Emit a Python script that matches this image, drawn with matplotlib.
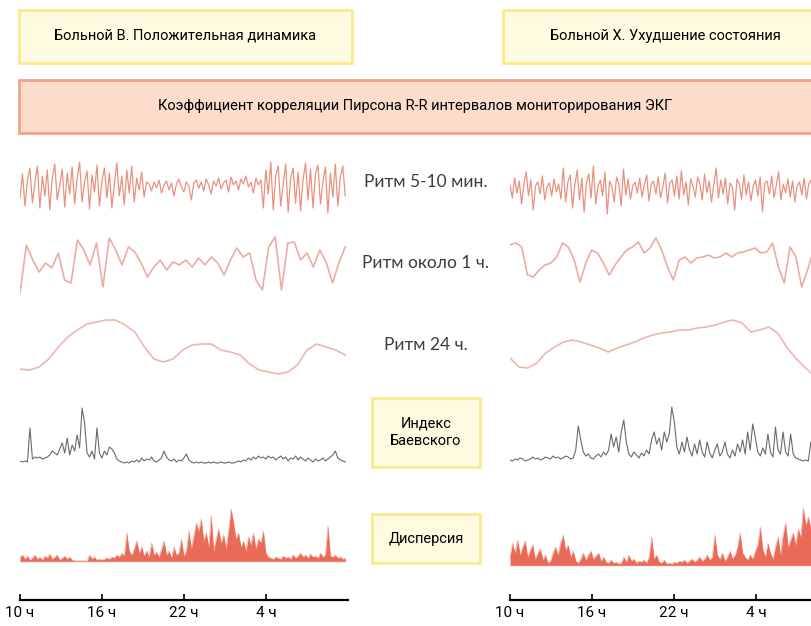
import numpy as np
import matplotlib
matplotlib.use('Agg')
import matplotlib.pyplot as plt
from matplotlib.patches import Rectangle

# --- texts ---
title_left = 'Больной В. Положительная динамика'
title_right = 'Больной Х. Ухудшение состояния'
title_main = 'Коэффициент корреляции Пирсона R-R интервалов мониторирования ЭКГ'
rhythm_labels = ['Ритм 5-10 мин.', 'Ритм около 1 ч.', 'Ритм 24 ч.']
box_labels = ['Индекс\nБаевского', 'Дисперсия']
hour_ticks = [0, 6, 12, 18]
hour_labels = ['10 ч', '16 ч', '22 ч', '4 ч']

# hours covered by the recorded samples (left record is full, right is cut by the page)
left_span = 23.8
right_span = 22.2

# --- patient B (left) ---
left_r5 = [-10, 14, -18, 8, 20, -15, 5, 22, -20, 12, -8, 18, -22, 10, 24, -12, 3, 19, -19, 15,
           -6, 21, -16, 9, 26, -14, 6, 17, -21, 13, -4, 23, -18, 7, 20, -10, 15, -20, 4, 25,
           -8, 12, -17, 18, -5, 22, -14, 10, -2, 16, -9, 6,
           4, -3, 6, 0, 8, -5, 3, 7, -2, 5, -8, 4, 9, 1, -4, 6, 2, -12, 5, 8,
           0, 6, -3, 9, 3, -6, 7, 2, 10, -1, 5, 8, -4, 11, 3, 7, -2, 9, 4, 12, 1, 6, -5, 10, 3, 8,
           -20, 18, -6, 26, -22, 12, 22, -18, 4, 24, -24, 10, 20, -15, 16, -23, 8, 25, -12, 19,
           -20, 14, 23, -16, 6, 21, -25, 15, -9, 24, -18, 11, 22, -8]
left_r1 = [-28, 20, 5, -7, 2, -3, 12, -15, -18, 25, 15, 0, 22, -22, 27, 15, 0, 18, 13, 2,
           -12, -2, 5, -5, 3, 0, 5, -2, 7, 0, 8, 2, -10, 5, 17, 8, 12, -15, -25, 18,
           28, -25, 22, 23, 5, 12, -2, 15, 3, -18, 2, 18]
left_r24 = [-22, -23, -20, -12, 0, 10, 17, 23, 25, 27, 27, 22, 15, 0, -12, -15, -12, -3, 2, 3,
            3, -3, -5, -8, -17, -23, -25, -27, -25, -18, -3, 3, 0, -3, -8]
left_baev = [2, 1, 2, 1, 35, 4, 6, 5, 6, 4, 5, 6, 8, 12, 10, 8, 14, 20, 10, 25,
             8, 18, 12, 28, 15, 55, 40, 10, 6, 12, 4, 35, 10, 5, 12, 8, 16, 14, 10, 4,
             2, 1, 0, 1, 0, 2, 1, 3, 1, 5, 2, 4, 3, 6, 2, 1, 3, 5, 12, 6,
             3, 2, 4, 1, 3, 2, 5, 9, 3, 1, 0, 1, 0, 1, 0, 0, 1, 0, 1, 0,
             0, 1, 0, 0, 1, 0, 0, 1, 2, 1, 3, 2, 5, 3, 6, 4, 7, 5, 6, 4,
             7, 5, 6, 3, 5, 7, 4, 6, 2, 5, 4, 7, 3, 6, 4, 2, 5, 3, 1, 4,
             2, 3, 5, 2, 4, 6, 8, 12, 5, 3, 2, 1]
left_disp = [4, 6, 2, 5, 1, 3, 6, 2, 4, 1, 5, 3, 7, 2, 4, 6, 1, 3, 5, 2,
             4, 1, 0, 0, 0, 0, 0, 0, 6, 2, 4, 1, 2, 1, 2, 3, 2, 4, 3, 6,
             4, 8, 5, 28, 10, 6, 12, 20, 8, 14, 5, 10, 4, 18, 6, 9, 4, 12, 20, 6,
             10, 3, 14, 6, 8, 22, 5, 10, 30, 12, 25, 38, 30, 42, 20, 28, 14, 45, 10, 22,
             32, 18, 26, 12, 30, 52, 38, 22, 28, 14, 20, 10, 24, 16, 28, 12, 22, 18, 30, 8,
             4, 3, 2, 4, 3, 2, 5, 3, 4, 2, 6, 3, 5, 8, 4, 6, 3, 7, 4, 5,
             3, 8, 4, 6, 35, 5, 4, 6, 3, 4, 2, 3]

# --- patient X (right) ---
right_r5 = [5, -8, 12, -3, 9, -14, 6, 18, -6, 10, -20, 4, 8, -4, 14, -10, 3, 7, -6, 11,
            -2, 6, -9, 22, -12, 8, 15, -18, 5, 20, -10, 12, -22, 7, 16, -8, 24, -14, 4, 10,
            -6, 18, -24, 9, 3, -12, 13, 6, -16, 21, -5, 11, -9, 4, 8, -3, 12, -7, 5, 15,
            -11, 6, 9, -4, 13, -8, 3, 17, -13, 7, 10, -6, 14, -9, 19, -5, 8, -15, 11, 4,
            -7, 13, 6, -10, 16, -3, 9, -12, 5, 22, -8, 10, -4, 12, -14, 7, 3, -20, 11, 6,
            -9, 15, -5, 8, -11, 4, 10, -6, 13, -22, 7, 9, -4, 14, -8, 5, 18, -10, 6, -3,
            11, -7, 9, -12, 4, 8, -5, 12, -9, 6, 10, -6]
right_r1 = [20, 22, 18, -10, -12, -5, 0, 2, 8, 22, 18, 5, -17, 2, 15, 12, 2, -10, 0, 8,
            15, 18, 23, 12, 17, 27, 15, -2, -15, 5, 8, 2, 7, 8, 10, 7, 8, 12, 8, 12,
            13, 15, 17, 12, 13, 22, -2, -18, 18, 8, -22, -5, 15]
right_r24 = [-13, -22, -23, -18, -8, -2, 3, 5, 3, 0, -3, -7, -3, 0, 3, 7, 10, 12, 13, 15,
             15, 17, 18, 20, 23, 25, 22, 13, 15, 18, 12, -2, -13, -22, -30]
right_baev = [2, 1, 3, 2, 4, 3, 1, 2, 3, 5, 3, 4, 2, 3, 5, 4, 3, 6, 4, 5,
              3, 4, 6, 5, 3, 4, 12, 36, 22, 10, 6, 8, 4, 3, 6, 8, 5, 10, 7, 12,
              28, 15, 25, 10, 30, 42, 20, 8, 5, 10, 7, 4, 9, 6, 12, 8, 22, 30, 18, 24,
              12, 30, 20, 28, 55, 40, 15, 8, 20, 10, 25, 12, 6, 18, 8, 22, 10, 5, 20, 9,
              4, 12, 18, 6, 10, 20, 8, 4, 12, 6, 18, 10, 22, 8, 30, 12, 38, 25, 10, 6,
              14, 8, 28, 10, 5, 35, 12, 8, 30, 10, 6, 28, 8, 4, 3, 2, 1, 2, 1, 20, 3]
right_disp = [8, 22, 12, 25, 10, 18, 24, 8, 15, 20, 6, 12, 16, 5, 10, 2, 4, 12, 18, 10,
              22, 30, 15, 20, 8, 14, 4, 2, 6, 12, 5, 10, 14, 6, 9, 12, 4, 8, 3, 2,
              5, 2, 3, 1, 2, 8, 3, 10, 4, 6, 2, 4, 3, 5, 2, 8, 28, 6, 10, 3,
              2, 5, 1, 2, 1, 3, 2, 4, 3, 5, 2, 4, 6, 3, 5, 8, 4, 6, 10, 5,
              8, 30, 10, 6, 12, 4, 8, 14, 6, 10, 18, 32, 12, 8, 5, 10, 6, 14, 20, 38,
              15, 8, 22, 12, 6, 18, 28, 10, 30, 42, 18, 25, 32, 20, 36, 28, 57, 40, 48, 35, 45]

W, H = 812, 626
NARROW = ['Roboto', 'DejaVu Sans']
LIGHT = ['Lato', 'DejaVu Sans']

fig = plt.figure(figsize=(W / 100, H / 100), dpi=100)


def px_axes(x0, y0, w, h):
    # rectangle given in pixels, origin at top-left
    return fig.add_axes([x0 / W, 1 - (y0 + h) / H, w / W, h / H])


# background layer for boxes and labels
bg = px_axes(0, 0, W, H)
bg.set_xlim(0, W)
bg.set_ylim(H, 0)
bg.axis('off')

yellow_fc, yellow_ec = '#fefbe1', '#fbe98e'
pink_fc, pink_ec = '#fcdccb', '#f3a38b'

bg.add_patch(Rectangle((19, 10), 333, 53, fc=yellow_fc, ec=yellow_ec, lw=2))
bg.add_patch(Rectangle((503, 10), 320, 53, fc=yellow_fc, ec=yellow_ec, lw=2))
bg.add_patch(Rectangle((19, 80), 804, 53, fc=pink_fc, ec=pink_ec, lw=2))
bg.text(185, 36, title_left, ha='center', va='center', fontsize=10.5, family=NARROW,
        fontstretch='condensed')
bg.text(665, 36, title_right, ha='center', va='center', fontsize=10.5, family=NARROW,
        fontstretch='condensed')
bg.text(415, 106, title_main, ha='center', va='center', fontsize=10.5, family=NARROW,
        fontstretch='condensed')

for lab, y in zip(rhythm_labels, [182, 263, 345]):
    bg.text(426, y, lab, ha='center', va='center', fontsize=12.5, color='#3c3c3c',
            family=LIGHT)

bg.add_patch(Rectangle((372, 398), 108, 69, fc=yellow_fc, ec=yellow_ec, lw=2))
bg.add_patch(Rectangle((372, 514), 108, 49, fc=yellow_fc, ec=yellow_ec, lw=2))
bg.text(426, 432, box_labels[0], ha='center', va='center', fontsize=10.5,
        family=NARROW, fontstretch='condensed', linespacing=1.3)
bg.text(426, 539, box_labels[1], ha='center', va='center', fontsize=10.5,
        family=NARROW, fontstretch='condensed')


def trace_axes(x0, yc, half=62):
    ax = px_axes(x0, yc - half, 328, 2 * half)
    ax.set_xlim(0, 24)
    ax.set_ylim(-half, half)
    ax.axis('off')
    return ax


def draw_panel(x0, span, r5, r1, r24, baev, disp, centers):
    c5, c1, c24, cb, cd = centers

    ax = trace_axes(x0, c5)
    t = np.linspace(0, span, len(r5))
    ax.plot(t, r5, color='#e27762', lw=0.9, alpha=0.8)

    ax = trace_axes(x0, c1)
    t = np.linspace(0, span, len(r1))
    ax.plot(t, r1, color='#e7978d', lw=1.2, alpha=0.8)

    ax = trace_axes(x0, c24)
    t = np.linspace(0, span, len(r24))
    ax.plot(t, r24, color='#eca39c', lw=1.2, alpha=0.8)

    ax = trace_axes(x0, cb)
    t = np.linspace(0, span, len(baev))
    ax.plot(t, baev, color='#5a5a5a', lw=0.8, alpha=0.9)

    ax = trace_axes(x0, cd)
    t = np.linspace(0, span, len(disp))
    ax.fill_between(t, 0, disp, color='#e2391f', alpha=0.75, lw=0)
    ax.plot(t, disp, color='#ec7b67', lw=0.5, alpha=0.6)
    ax.plot([0, span], [0, 0], color='#e9604a', lw=1.0, alpha=0.6)

    # time scale
    tx = px_axes(x0, 570, 328, 30)
    tx.set_xlim(0, 24)
    tx.set_ylim(0, 1)
    tx.patch.set_alpha(0)
    for s in ['top', 'left', 'right']:
        tx.spines[s].set_visible(False)
    tx.spines['bottom'].set_linewidth(1.6)
    tx.set_yticks([])
    tx.set_xticks(hour_ticks)
    tx.set_xticklabels(hour_labels, fontsize=11, family=NARROW, fontstretch='condensed')
    tx.tick_params(axis='x', direction='in', length=4, width=1.2, pad=4)


draw_panel(20, left_span, left_r5, left_r1, left_r24, left_baev, left_disp,
           (188, 265, 347, 463, 561))
draw_panel(510, right_span, right_r5, right_r1, right_r24, right_baev, right_disp,
           (190, 265, 345, 462, 565))

fig.savefig('out.png', dpi=100, facecolor='white')
